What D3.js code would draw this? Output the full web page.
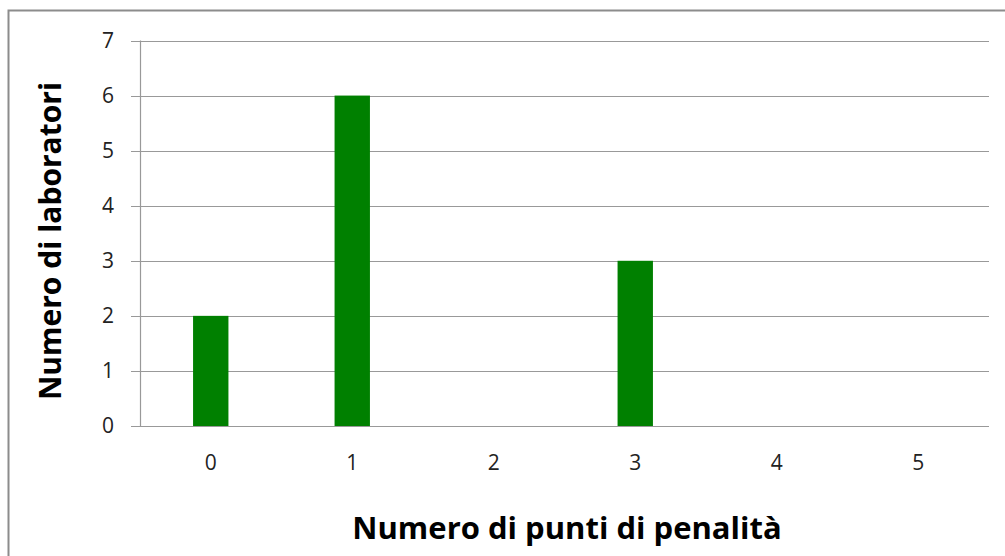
<!DOCTYPE html>
<html>
<head>
<meta charset="utf-8">
<script src="https://cdn.jsdelivr.net/npm/d3@7"></script>
<style>
  body { margin: 0; background: #fff; }
  text { font-family: "Open Sans", sans-serif; }
</style>
</head>
<body>
<div id="container"></div>
<script>
// chart data
const categories = ['0', '1', '2', '3', '4', '5'];
const counts = [2, 6, 0, 3, 0, 0];
const yTicks = [0, 1, 2, 3, 4, 5, 6, 7];

const width = 1005;
const height = 556;
const plot = { left: 140, right: 989, top: 40.5, bottom: 426 };

const svg = d3.select('#container')
              .append('svg')
              .attr('width', width)
              .attr('height', height);

// outer frame
svg.append('rect')
   .attr('x', 8.5)
   .attr('y', 10.5)
   .attr('width', width + 10)
   .attr('height', height + 10)
   .attr('fill', '#fff')
   .attr('stroke', '#8c8c8c')
   .attr('stroke-width', 2);

const xScale = d3.scaleBand()
                 .domain(categories)
                 .range([plot.left, plot.right])
                 .paddingInner(0.75)
                 .paddingOuter(0.375);

const xCenter = d3.scaleBand()
                  .domain(categories)
                  .range([plot.left, plot.right]);

const yScale = d3.scaleLinear()
                 .domain([0, 7])
                 .range([plot.bottom, plot.top]);

// gridlines
svg.append('g')
   .selectAll('line')
   .data(yTicks)
   .enter()
   .append('line')
   .attr('x1', plot.left - 9)
   .attr('x2', plot.right)
   .attr('y1', d => Math.round(yScale(d)) + 0.5)
   .attr('y2', d => Math.round(yScale(d)) + 0.5)
   .attr('stroke', '#999')
   .attr('stroke-width', 1.2);

// y axis line
svg.append('line')
   .attr('x1', plot.left + 0.5)
   .attr('x2', plot.left + 0.5)
   .attr('y1', plot.top)
   .attr('y2', plot.bottom)
   .attr('stroke', '#999')
   .attr('stroke-width', 1.2);

// bars
svg.append('g')
   .selectAll('rect')
   .data(counts)
   .enter()
   .append('rect')
   .attr('x', (d, i) => xScale(categories[i]))
   .attr('width', xScale.bandwidth())
   .attr('y', d => yScale(d))
   .attr('height', d => yScale(0) - yScale(d))
   .attr('fill', '#008000');

// y tick labels
svg.append('g')
   .selectAll('text')
   .data(yTicks)
   .enter()
   .append('text')
   .attr('x', 114)
   .attr('y', d => yScale(d))
   .attr('dy', '0.35em')
   .attr('text-anchor', 'end')
   .attr('font-size', 21)
   .attr('fill', '#222')
   .text(d => d);

// x tick labels
svg.append('g')
   .selectAll('text')
   .data(categories)
   .enter()
   .append('text')
   .attr('x', d => xCenter(d) + xCenter.bandwidth() / 2)
   .attr('y', 470)
   .attr('text-anchor', 'middle')
   .attr('font-size', 21)
   .attr('fill', '#222')
   .text(d => d);

// axis titles
svg.append('text')
   .attr('x', 567)
   .attr('y', 539)
   .attr('text-anchor', 'middle')
   .attr('font-size', 31)
   .attr('font-weight', 'bold')
   .attr('fill', '#000')
   .text('Numero di punti di penalità');

svg.append('text')
   .attr('transform', 'translate(61,241) rotate(-90)')
   .attr('text-anchor', 'middle')
   .attr('font-size', 30)
   .attr('font-weight', 'bold')
   .attr('fill', '#000')
   .text('Numero di laboratori');
</script>
</body>
</html>
